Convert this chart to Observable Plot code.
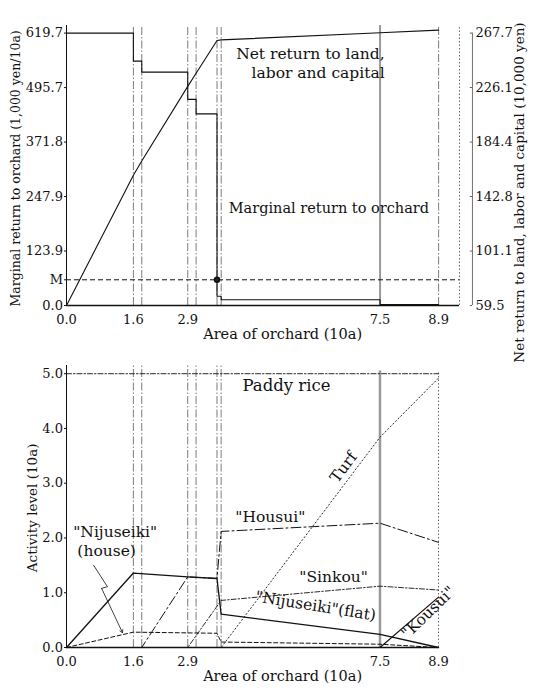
<!DOCTYPE html>
<html><head><meta charset="utf-8">
<script src="https://cdn.jsdelivr.net/npm/d3@7"></script>
<script src="https://cdn.jsdelivr.net/npm/@observablehq/plot@0.6"></script>
<style>
html,body{margin:0;padding:0;background:#fff;}
#chart{width:535px;height:690px;position:relative;background:#fff;}
#chart svg{display:block;overflow:visible;position:relative;}
</style></head><body><div id="chart"></div>
<script>
// ---------- shared ----------
const xBreaks = [1.6, 1.8, 2.9, 3.1, 3.6, 3.7, 7.5, 8.9];
const xTickLabels = [0, 1.6, 2.9, 7.5, 8.9];

// ---------- top panel data ----------
const margX   = [0, 1.6, 1.8, 2.9, 3.1, 3.6, 3.7, 7.5, 8.9];
const margVal = [619.7, 556, 531, 469, 436, 21, 13, 2, 2];
const netX    = [0, 1.6, 1.8, 2.9, 3.1, 3.6, 3.7, 7.5, 8.9];
const netVal  = [59.5, 159, 170, 227, 237, 262, 262.5, 268, 270];
const leftTicks  = [0, 123.9, 247.9, 371.8, 495.7, 619.7];
const rightTicks = [59.5, 101.1, 142.8, 184.4, 226.1, 267.7];
const Mvalue = 58.5;
const Mx = 3.6;

// ---------- bottom panel data ----------
const paddyX  = [0, 8.9],                           paddyY  = [5.0, 5.0];
const nijuX   = [0, 1.6, 2.9, 3.6, 3.7, 7.5, 8.9],  nijuY   = [0, 1.36, 1.29, 1.26, 0.61, 0.24, 0];
const houseX  = [0, 1.6, 3.6, 3.7, 7.5, 8.9],       houseY  = [0, 0.28, 0.26, 0.1, 0.06, 0];
const housuiX = [0, 1.8, 2.9, 3.6, 3.7, 7.5, 8.9],  housuiY = [0, 0, 1.29, 1.26, 2.12, 2.27, 1.92];
const sinkouX = [0, 2.9, 3.7, 7.5, 8.9],            sinkouY = [0, 0, 0.86, 1.12, 1.05];
const turfX   = [0, 3.7, 7.5, 8.9],                 turfY   = [0, 0, 3.84, 4.92];
const kousuiX = [0, 7.5, 8.9],                      kousuiY = [0, 0, 0.92];
const activityTicks = [0, 1, 2, 3, 4, 5];

const zip = (xs, ys) => xs.map((x, i) => ({x, y: ys[i]}));
const f1 = d3.format(".1f");
const FONT = "DejaVu Serif";
const INK = "#111";
const LBL = 15.5;

// right axis conversion (right-axis units -> left-axis units)
const toLeft = r => (r - rightTicks[0]) * leftTicks[leftTicks.length - 1] /
                    (rightTicks[rightTicks.length - 1] - rightTicks[0]);
const rightTickData = rightTicks.map(r => ({v: r, y: toLeft(r)}));

const topPlot = Plot.plot({
  width: 535, height: 350,
  marginLeft: 66, marginRight: 76, marginTop: 25, marginBottom: 45,
  x: {domain: [0, 9.4]},
  y: {domain: [0, 637]},
  style: {fontFamily: FONT, fontSize: "13px", background: "transparent", color: INK, overflow: "visible"},
  marks: [
    Plot.ruleX(xBreaks.filter(d => d !== 7.5), {y1: 0, y2: 637, stroke: "#444", strokeWidth: 0.7, strokeDasharray: "8,2,1.5,2"}),
    Plot.ruleX([7.5], {y1: 0, y2: 637, stroke: "#999", strokeWidth: 2}),
    Plot.ruleX([9.4], {y1: 0, y2: 637, stroke: "#444", strokeWidth: 0.8, strokeDasharray: "1.5,2"}),
    Plot.ruleY([Mvalue], {x1: 0, x2: 9.4, stroke: INK, strokeWidth: 1, strokeDasharray: "5,3"}),
    Plot.ruleX([0], {y1: 0, y2: 637, stroke: INK, strokeWidth: 1}),
    Plot.ruleY([0], {x1: 0, x2: 9.4, stroke: INK, strokeWidth: 1.3}),
    Plot.line(zip(margX, margVal), {x: "x", y: "y", curve: "step-after", stroke: INK, strokeWidth: 1.1}),
    Plot.line(zip(netX, netVal.map(toLeft)), {x: "x", y: "y", stroke: INK, strokeWidth: 1.1}),
    Plot.dot([{x: Mx, y: Mvalue}], {x: "x", y: "y", r: 2.5, fill: "#222", stroke: INK}),
    Plot.axisY({ticks: leftTicks, tickFormat: f1, tickSize: 2, tickPadding: 1.5, label: null}),
    Plot.axisY({ticks: [Mvalue], tickFormat: () => "M", tickSize: 2, tickPadding: 1.5, label: null}),
    Plot.axisX({ticks: xTickLabels, tickFormat: f1, tickSize: 0, tickPadding: 9, label: null}),
    // right axis
    Plot.ruleX([9.71], {y1: 0, y2: 619.7, stroke: "#333", strokeWidth: 0.7}),
    Plot.ruleY(rightTickData, {y: "y", x1: 9.66, x2: 9.71, stroke: "#333", strokeWidth: 0.8}),
    Plot.text(rightTickData, {x: 9.71, y: "y", text: d => f1(d.v), textAnchor: "start", dx: 3, fill: INK}),
    // titles
    Plot.text(["Area of orchard (10a)"], {x: 5.17, frameAnchor: "bottom", dy: 33, text: d => d, fill: INK, fontSize: 14.5}),
    Plot.text(["Marginal return to orchard (1,000 yen/10a)"], {y: 312, frameAnchor: "left", dx: -51, rotate: -90, textAnchor: "middle", text: d => d, fill: INK, fontSize: 12.5}),
    Plot.text(["Net return to land, labor and capital (10,000 yen)"], {y: 257, frameAnchor: "right", dx: 60, rotate: -90, textAnchor: "middle", text: d => d, fill: INK, fontSize: 13.5}),
    // labels
    Plot.text(["Net return to land,", "labor and capital"], {x: 7.61, y: [573, 529], text: d => d, textAnchor: "end", fill: INK, fontSize: LBL}),
    Plot.text(["Marginal return to orchard"], {x: 3.88, y: 221, text: d => d, textAnchor: "start", fill: INK, fontSize: 14.5})
  ]
});

// arrow from "(house)" label (lightning shape)
const arrowPts = [{x: 0.65, y: 1.50}, {x: 0.98, y: 1.11}, {x: 0.84, y: 1.08}];
const arrowHead = [{x1: 0.84, y1: 1.08, x2: 1.34, y2: 0.27}];

const botPlot = Plot.plot({
  width: 535, height: 340,
  marginLeft: 66, marginRight: 97, marginTop: 15, marginBottom: 43,
  x: {domain: [0, 8.9]},
  y: {domain: [0, 5.15]},
  style: {fontFamily: FONT, fontSize: "13px", background: "transparent", color: INK, overflow: "visible"},
  marks: [
    Plot.ruleX(xBreaks.filter(d => d !== 7.5 && d !== 8.9), {y1: 0, y2: 5.15, stroke: "#444", strokeWidth: 0.7, strokeDasharray: "8,2,1.5,2"}),
    Plot.ruleX([7.5], {y1: 0, y2: 5.05, stroke: "#999", strokeWidth: 2.5}),
    Plot.ruleX([8.9], {y1: 0, y2: 5.05, stroke: "#444", strokeWidth: 0.8, strokeDasharray: "1.5,2"}),
    Plot.ruleX([0], {y1: 0, y2: 5.15, stroke: INK, strokeWidth: 1}),
    Plot.ruleY([0], {x1: 0, x2: 8.9, stroke: INK, strokeWidth: 1.3}),
    Plot.line(zip(paddyX, paddyY), {x: "x", y: "y", stroke: INK, strokeWidth: 0.9, strokeDasharray: "5,2,1.5,2"}),
    Plot.line(zip(turfX, turfY), {x: "x", y: "y", stroke: INK, strokeWidth: 0.9, strokeDasharray: "1.2,2.5"}),
    Plot.line(zip(housuiX, housuiY), {x: "x", y: "y", stroke: INK, strokeWidth: 1, strokeDasharray: "10,3,2,3"}),
    Plot.line(zip(sinkouX, sinkouY), {x: "x", y: "y", stroke: INK, strokeWidth: 0.9, strokeDasharray: "5,2,1.5,2"}),
    Plot.line(zip(houseX, houseY), {x: "x", y: "y", stroke: INK, strokeWidth: 1, strokeDasharray: "4,2.5"}),
    Plot.line(zip(kousuiX, kousuiY), {x: "x", y: "y", stroke: INK, strokeWidth: 1.2}),
    Plot.line(zip(nijuX, nijuY), {x: "x", y: "y", stroke: INK, strokeWidth: 1.3}),
    Plot.line(arrowPts, {x: "x", y: "y", stroke: INK, strokeWidth: 0.8}),
    Plot.arrow(arrowHead, {x1: "x1", y1: "y1", x2: "x2", y2: "y2", stroke: INK, strokeWidth: 0.8, headLength: 6}),
    Plot.axisY({ticks: activityTicks, tickFormat: f1, tickSize: 2, tickPadding: 1.5, label: null}),
    Plot.axisX({ticks: xTickLabels, tickFormat: f1, tickSize: 0, tickPadding: 9, label: null}),
    Plot.text(["Area of orchard (10a)"], {x: 5.17, frameAnchor: "bottom", dy: 33, text: d => d, fill: INK, fontSize: 14.5}),
    Plot.text(["Activity level (10a)"], {y: 2.55, frameAnchor: "left", dx: -34, rotate: -90, textAnchor: "middle", text: d => d, fill: INK, fontSize: 13.5}),
    // series labels
    Plot.text(["Paddy rice"], {x: 4.21, y: 4.78, text: d => d, textAnchor: "start", fill: INK, fontSize: 16.5}),
    Plot.text(["Turf"], {x: 6.63, y: 3.29, text: d => d, rotate: -53, fill: INK, fontSize: LBL}),
    Plot.text(["\"Housui\""], {x: 4.04, y: 2.38, text: d => d, textAnchor: "start", fill: INK, fontSize: LBL}),
    Plot.text(["\"Sinkou\""], {x: 5.57, y: 1.28, text: d => d, textAnchor: "start", fill: INK, fontSize: LBL}),
    Plot.text(["\"Nijuseiki\"(flat)"], {x: 4.52, y: 0.93, text: d => d, textAnchor: "start", rotate: 9, fill: INK, fontSize: LBL}),
    Plot.text(["\"Kousui\""], {x: 8.66, y: 0.64, text: d => d, rotate: -44, fill: INK, fontSize: LBL}),
    Plot.text(["\"Nijuseiki\"", "(house)"], {x: [0.16, 0.26], y: [2.10, 1.76], text: d => d, textAnchor: "start", fill: INK, fontSize: LBL})
  ]
});

const chart = document.getElementById("chart");
chart.appendChild(topPlot);
chart.appendChild(botPlot);
</script></body></html>
